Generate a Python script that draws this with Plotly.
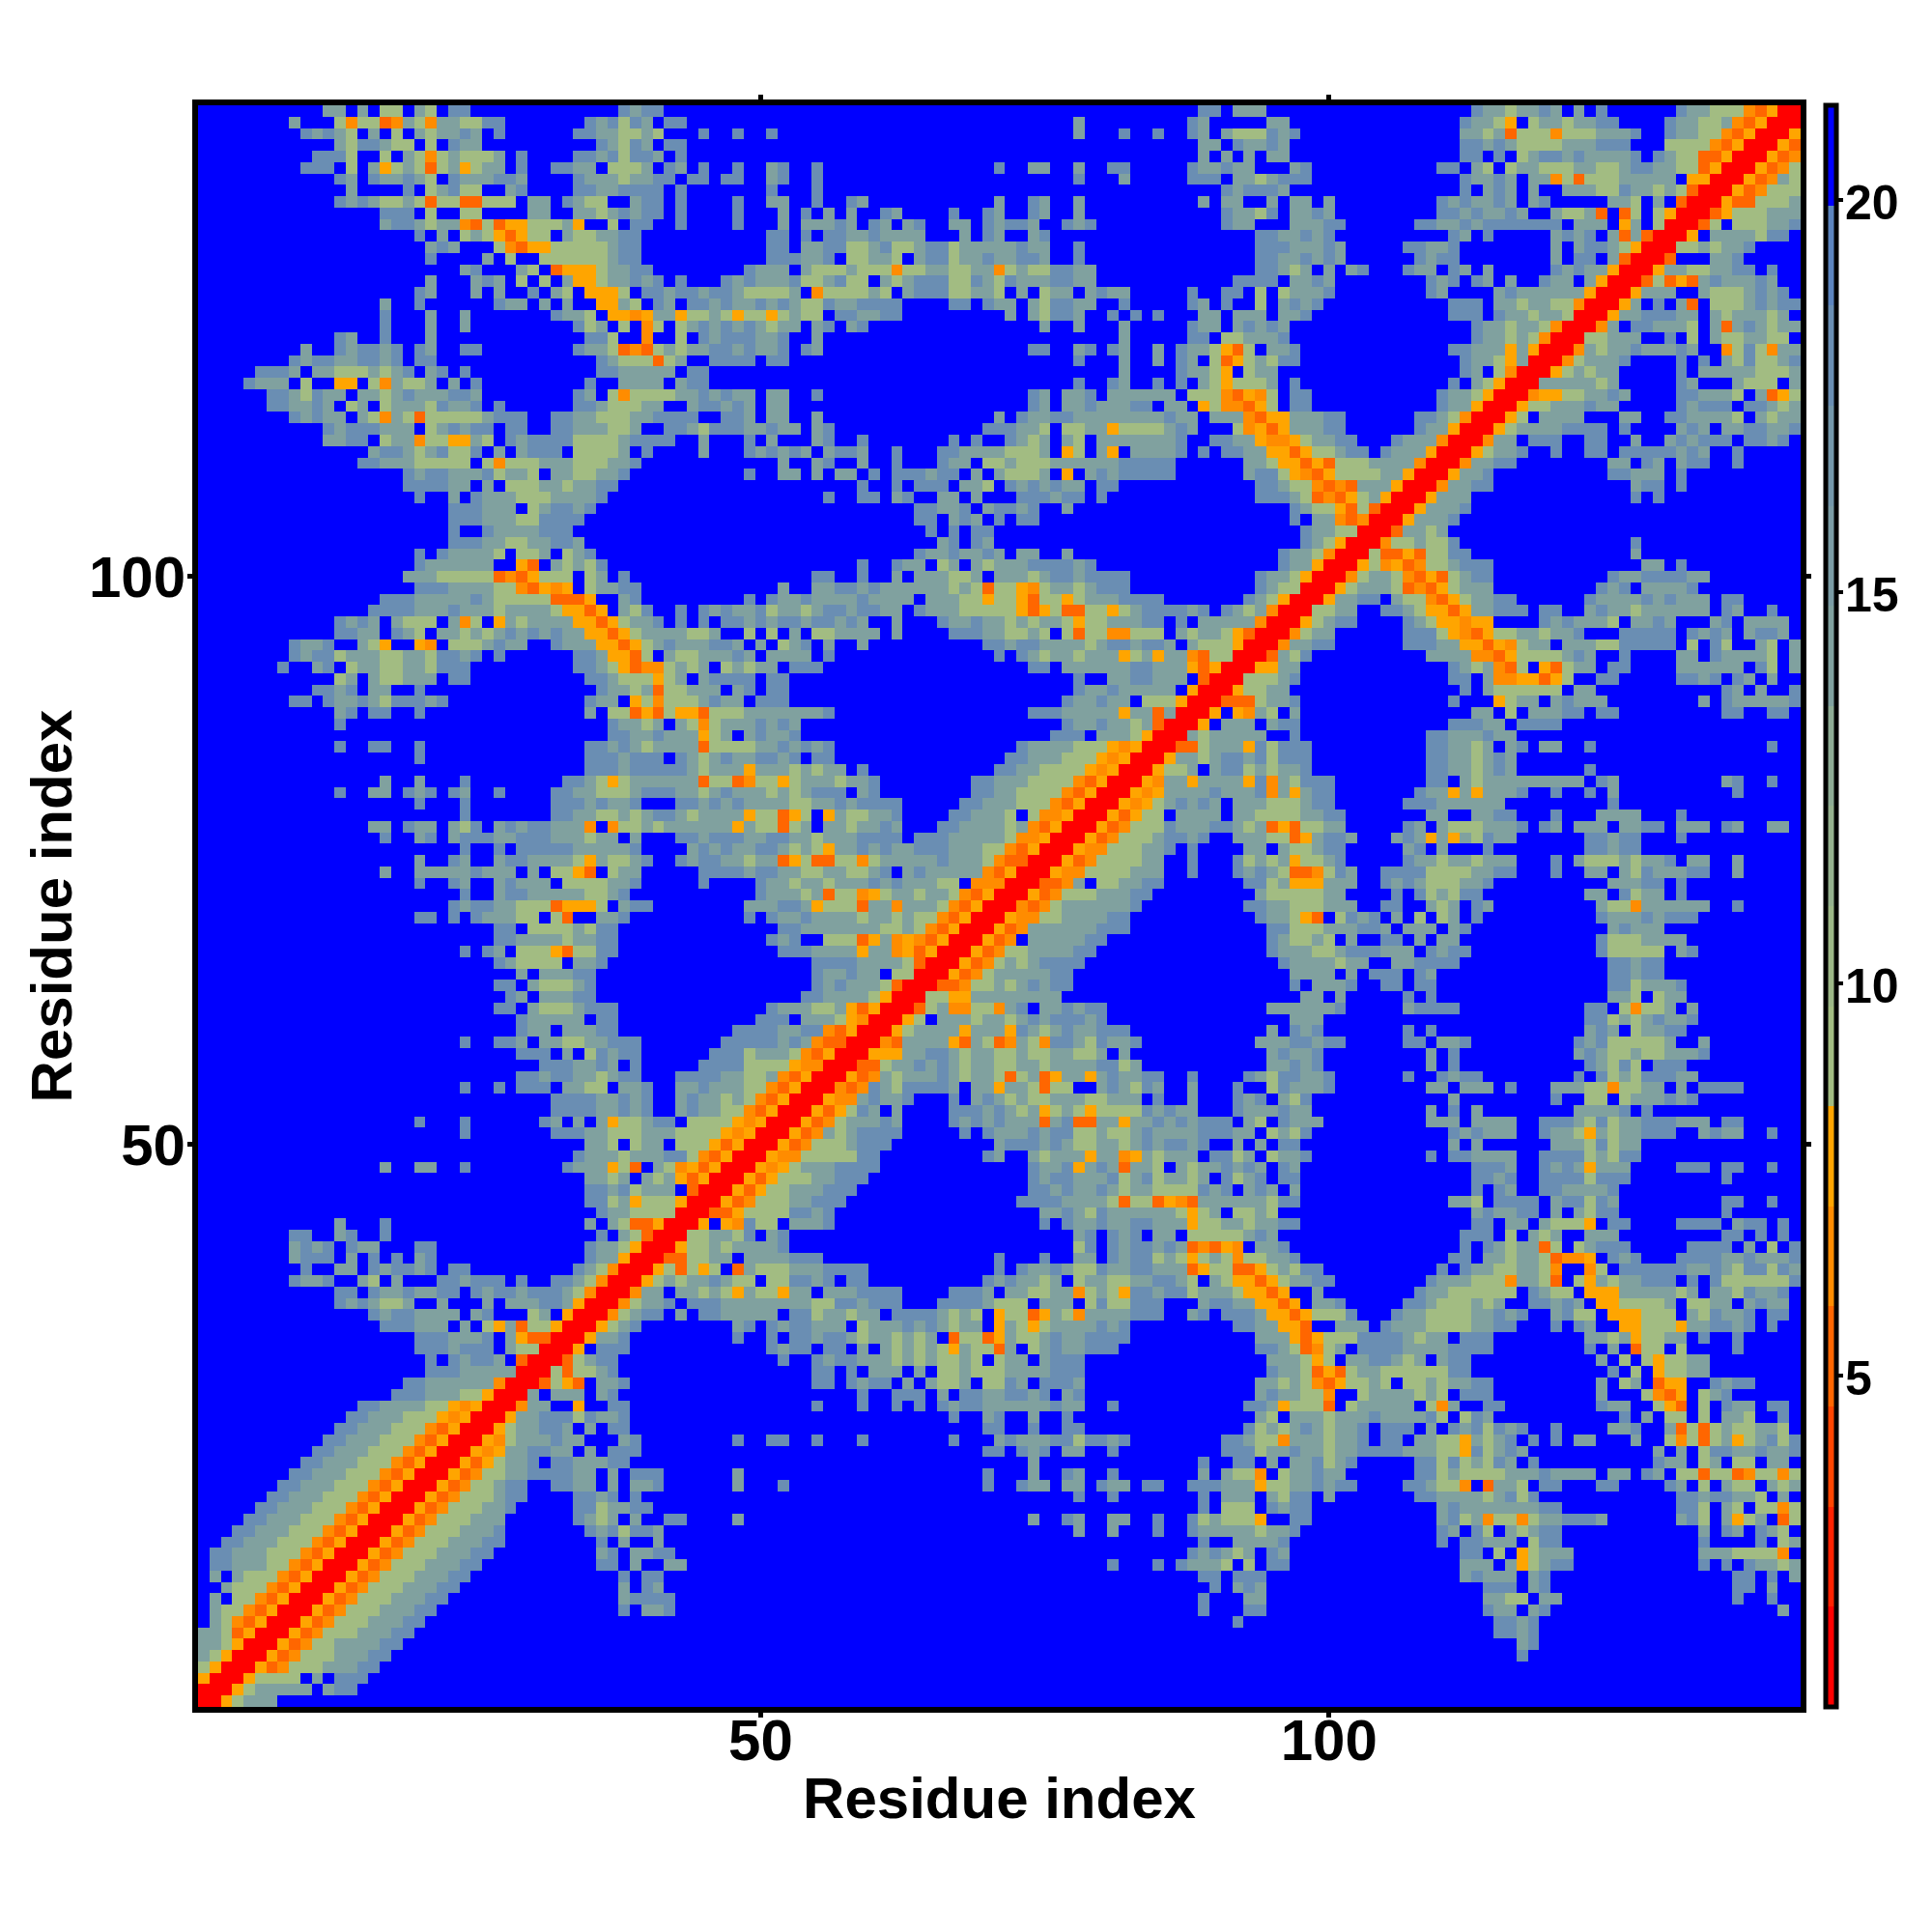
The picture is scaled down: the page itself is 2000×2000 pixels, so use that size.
import re
import plotly.graph_objects as go

# Upper triangle of the distance map, read row by row from residue 141 down.
# Letters are distance classes, a number repeats the next blank cell.
LEFT_COLS = [
"11.gg.g.ll.gl.bb13.bgbb7.","8.g3.lnllmnglnggllbb7.bgblbg.bb5.","9.bgbgl.g.l.glggbg.b6.bbggllgl3.b2.b",
"12.glbbgll.l.bgg10.bglbg.bb5.","10.bbbl2.l.glnlglllg.b4.bbgblbbg.b5.","9.bbb.l.golglmlgolgg.b2.bbgg.lllg.bg.b2.b",
"12.bg.bggbgl.bgggbbg4.bggglggbb.bb.bb","13.g4.b.lgbll2.gb4.bbggbbbb.b5.","12.bgbgllglmllmmlll.gg.bgll2.gbb.b4.b",
"16.bbb.l2.ll4.gg2.gglgbgbb.b4.b","16.gbbglggnmlmoolllgo2.l.bb2.b4.b","19.b.g.lglomoll.gllggbb9.",
"20.gbg3.lnmoolllllgbb9.","20.b4.g.l2.llllllgbb9.","23.gb3.gl.mooolggbb8.",
"20.g3.gbg.l.l.goolggbgb.b3.bg","19.bg3.g.g2.b.gl.oool.bbgbbgbbg","16.g2.b6.bgg.g.g2.oogl.bg.bbgbg",
"16.b3.g2.g7.bggl.oonoggollglo","16.b3.g2.g9.blg.l.nl.lgbgbg","12.bg2.b3.g13.bbl2.n2.l.bgbb",
"9.g2.bgbbgb.bg2.bb8.bgglmnmlglggbbg","8.bgbbggbbgb.bb14.bglllmlg2.bbb","5.bbbg.gglllglgb.gb.b11.bbggggg.bb3.",
"4.bggg.l2.oo.lngllg.g.b9.b2.gggg.gbb3.","6.bbglbgg.gglgbgggbbg8.bg.lnllllggbgbg","6.bbggbg.lg.lggglbggb.b6.bbglllgg2.gbbgb",
"8.bgbgg.glnglmlllllgbbb2.bbgglllggbbbb2.bb","11.bgbbbggg.lgbgbb.bb2.bbgggllg2.bbglbbb","11.ggbb.lggnlloogl.bgbbbbllllgbbbb2.g3.",
"15.gbbglgbllb.g.gbbb.llllg.b4.g3.","14.bbggglllll.lnlllggglllggb9.","18.bgbbgggblggl.ggllggb10.",
"18.bbbbgg.g.lllgglggbb11.","19.b2.g.bggglllggggb12.","22.bbbggg.lgbbgb13.",
"22.bbbgggllbbbb14.","22.b2.bggggbbb15.","22.bbbggllggbbg14.",
"19.b.bggggl.llg.lgb13.","19.bgggggg2.om.glglb12.","18.ggglllllmnmolll.lg.b10.",
"19.bbbggggllnmono.lggbb9.","16.bbbgggggbglllllmmmo2.gb9.","15.bbbbgggbggglggggloomo.glb2.b.bgbg",
"12.bgbg.glll.gnl.oglggggoomolggb.b.b.bb","12.bbgg.bgl.gglglgbgbgbggoomolggggllg2.",
"8.bggb2.glo2.on.lllgbgg2.bgggoomolgbgggbbg","8.bgbblgggllgglbbgb.b6.bbgooml.gllgggb","7.b2.gb.lggllgglbbb9.bbglomnnlglg.lg",
"12.lg.gllggg.bb10.bbglllolg.gbbb","10.bbgb.gg2.b15.bgglgmllggg.g","8.bb.bggbglbbbgb12.bgg.olnlllgbgg",
"12.gb.bb2.b14.g.llmomloomlll","12.b23.bgglg.glnlgg","36.bbggbgggolg.",
"12.b2.bb2.b14.bbgbglggggmlll","19.b14.bbbgbbb.bglgbg","34.bbbgbbbbbglggg",
"16.g2.g3.b8.bbglolggggggmllm","12.b2.gg.bgb.bg2.b4.bbgglllgbbbgglgbg","19.b3.b7.bbbgbggb3.bbgbgb",
"23.b7.bbggllglgbbglgggg","15.gg.bgg.glb.gbgbbgggn.nllglggggggo","16.b2.gb.gbbbggbbbggglgg.g3.bbgbbb",
"23.b2.b.bbbbbgggggb4.gbgbg","19.g2.bg2.gbbgggglogllgb2.bgbbgg","16.g2.gggggbggg.g.llom.lgg5.bbbb",
"19.b2.bg2.gbggg.llllggb5.b3.","23.b2.gbbgggggllgb10.","22.bgbbgglllmoool.gbb8.",
"19.bb.b.bgggll.lm2.ggb10.","26.bb.llllglbb11.","26.bbgggglggbb11.",
"23.b.bg.lllomllbb11.","26.bgllll.ggb12.","28.g.gggbb13.",
"26.bb.glllgb13.","27.bg.gggbb13.","26.bb.glllgbbb11.",
"28.bggggg.bb11.","28.bgg.gggbb10.b","23.b2.bbg.ggllggbbb7.bb",
"28.bbb.g.lbgbb6.bbb","30.bbbggbg.b5.bbbb","28.bbgbbgglgbb3.bbbbgg",
"23.b2.b.bbb.ggll.ggb2.ggbggg","31.bbbbggbgb2.gbgglg","31.bbbbggbgb2.gbggll",
"19.b3.b6.bg.g.gollgbb.llllo","23.b7.bbbgglllgggllllon","34.ggl.lgg.lllomo",
"33.bggglgggbblnmor","16.g2.gg2.b8.bgggolm.glnomorr",
"34.gglg.glgomorrr","34.bbgblggg.mrrro","34.bblgolllorrron","35.bggllllrrrmmn",
"12.g3.b17.g.glmmorrro.nn","8.bb2.gb2.b18.b.glmrrrlllgg","8.gbgb.bgg3.bb13.bgglorrrollggg",
"8.gbbb.g.b.b.gb13.bggorrrmmlggl.","9.b2.gg.bgbbgb.bb9.bglnrrrolmlol.n","8.bggb2.gl.g3.bbgbbb.b2.bbglnrrrolgbgbbgb",
"12.bb.bggbggbb.bgbbgbbbglnrrrnll.ggglgo","12.bgbgllg2.g3.g.gggbbgorrrolgbb.gbbbb","15.bgbbgggg.gb3.lg.orrroggbb.b.bgbb",
"16.bbbggg.g.logmllorrrnlgb8.b","19.bbbgggb.gommrrrolgbb9.","19.bbbgbbb.gllrrro.gbb10.",
"20.b.bgbbg.mrrrmgggb11.","20.bbbgggggrrrlmggbb11.","18.bbggggggnrrrmlom.gbb10.",
"17.bbbgggllorrrg.ggg.gb11.","14.bbggggllonorrrngg2.o2.gb10.","13.bbggglllonorrrolgggbggbbb10.",
"12.bbggglllnmorrrollgggg.g.bb10.","11.bbggglllnmorrronlllgggg3.gb9.","10.bbggglllnmorrromollgggg.g.bbb9.",
"9.bbggglllnmorrromolllb.bbgggb11.","8.bbggglllnmorrromnllllbbbbgg.g.bgb6.b","7.bbggglllnmorrromolllgg2.bbgg.g.gbb7.",
"6.bbggglllnmorrromolllggb4.bbgg.b9.","5.bbggglllnmorrromnlllggb5.bbgggbgb7.","4.bbggglllnmorrromnlllggb6.bggg.g2.bb4.b",
"3.bbggglllnmorrromnlllggbb7.bgggbgb7.","2.bbggglllnmorrromolllgggbb8.b.g2.b7.",".bbggglllnmorrromolllgggbb9.bb.gbgbb5.",
".bbgggllnmorrromolllgggbb10.bg.g2.bbb4.",".g.glllnmorrromolllgggbb13.g.bb7.","2.glllnmorrromolllggbbb14.b.bb7.",
".g.llnmorrromolllggbbb15.bbbbbb5.",".gllnmorrromolllggbbb16.b.bbbb5.",".glnmorrromolllggbbb28.",
"gglmorrromolllggbbb29.","gglorrromolllggbbb30.","glorrromolllggbbb31.","lorrromnlllggbbb32.",
"orrrolllg.g.bgb33.","rrrolllggg.bbg34.","rrolgbl41.",
]

MID_COLS = [
"40.bb.ggg.","29.g9.bg5.g","2.b26.g3.b2.b2.bg.glllb","40.gg.bggb","40.g.g.g.g",
"2.gb2.b15.b2.gg2.g2.bb5.bggbgg2.","2.gb2.b22.b3.g5.bbb.gglg","2.b3.b35.bgbbb",
"2.gg2.b2.bg11.g2.bg2.g10.g.gg2.g","3.g.b.g.g2.bg4.b2.bg2.bg2.g12.bgglb","3.g.gggbg.bg.gb2.gg.bgbbg2.bgb11.bgg2.",
"2.bb.b.bbggbgggg3.g.bg2.gb18.bb","2.bb.ggbbllgbllgbblgggggbgg2.b15.bb","2.bbbggb.llggl.gbblggbggbbg2.b15.bb",
"bggg.glllglllnllggllggnlgllbbgg14.bb","bgggbllgbll.glgbbbllbglbgggbbgg12.bbbb","llllg.nllllgl.gbbbllggl.g.lgg.gbgg5.b2.bb.l.",
"gbgbgllbggbbbb4.bb.bgg.glbbgg2.b5.bg.b2.l.","llolgll.bbggbb9.g.glbbg2.b.b.b3.gg.ggg.","bglgg.gb.gb15.g2.g3.g5.bgg.gbgb",
"bggb2.g26.g5.bb.llggg","bggb.bg18.bb2.gb.bg2.g.bggloml.g","b.bb25.b3.g2.g.bg.lmolgl","33.g4.bgglo.lgg","29.b2.bg2.b.b.glolllg",
"g.gg2.b18.bg.ggb.gggggg.lllnmonl","g.gg21.bg.ggbgggbb.gg.olnnmol","g.gg2.g15.g.bggbbggggggggbgg.gggnmo",
"ggbgg.gb13.bbbggl.llggollllgbg3.lnom","b.g3.gb2.b7.b.b2.bglg.gl.gggggggb2.bbggon",
"bgbgbg.gbbg2.b3.bbgggglllg.ol.go.ggggb.b.bbggo","3.g2.gb2.g2.b3.bgg.llglllggggggbbbbb6.ggl",
"b2.gg.g.gg.b.bbbgbb.g.glllg.o.gbgbbbbb6.gbb","10.b2.b.bbb.ggl.bgbgbgg.bb12.bb","7.b2.bb.gb2.gg.g3.bbbgbb.b13.bb",
"15.bbggb.gbbgb2.g18.","15.bb.gbg.b.bb21.","16.b.b.bb25.","17.gb.bg25.","15.bggbggbg.gg2.g18.",
"10.b2.bgg.lg.glgggbbbbgb16.","6.bb2.b2.g.gggllg.ggglgbbgbbbb11.bg","3.g2.ggbbgbgggggglglmllonlgglgbbb11.bg",
"b.bggbggggbgggg.gggllollomllolgggbbbb7.bgl","gblgglgbbgbbgg.bggglllllomolmmllolgbbbbgb.bglgn",
"gbgbbgbbgbg2.g3.bggbgglglgglollgggbb.b.gggggnr","l.l.g.llgggg.g4.bbbggllgl.lmllnnlll.glgglomrr",
".g.lgb.g2.g10.bbgbbgggglgbbgbbg.glllorrr","g.gggg.b14.b.bglgglgggolgoggnmllrrrn","lgg.bbb18.bb.ggggggbbgggomorrrol",
"b.bb25.b2.ggbbggg.mrrrlll","b.bb25.bggbggggg.orrrolgg",".bbb24.bggbgg.lllorrrmmmng","gggggggb17.bbbgggggoggmgrrro.onlg",
"gbgbg23.bggbgglgmrrro.ggl.g","gbggb22.bbb.ggglorrrlggbggg.","lggbgbgb16.bgggglllonorrrnnlgggoll",
"gbbgb.bb15.bbggglllonorrrolgggbgbbb","oggglglgg.b11.bbggllllonorrrolll.bbbgbb","nllolggglggb8.bbgggllllnmorrromllogggboln",
"gglglgbbb.gb8.bbggllllnmorrromoggbbbbbgbg","ggggllggbgbbbb5.bbggglllnmorrromolggbg2.bgbg","ollmol.ogllggb4.bbgggl.lnnorrronmlgg.bg2.gbgg",
"gllmlg.gglggbg3.bbgggglgnmorrronmlllggggbbbgmo","ggbbgglgggbbbb.bbbgggggl" "nnorrronolllgggbb2.gbgb",
"gbbglgloggbgbggbbbgggll" "nmorrronolllggb.b4.bb.","lggmolmmlln" "lgggggbgggl" "nmmrrromollllggb.b3.bbgb",
"gbbggllggllgb.gbgggggnmorrromolllggbbbbb3.bbbb",".bgglgglgggbgbgggll.nnnrrrnnnl.lgggbbb6.bbb",
".bggglgmllnolgglgglnmorrromolllggbbb9.bb","gggbbgolllmggngggl" "nmorrrnmnlllggbbb9.bb.",
"b.bggbgggglgglgllnmorrronnlllgggbb11.bb","3.bbgggggggllglnmorrromnlllggbbb13.b","2.bgb2.lllmognonmorrromn.lllggbb14.b",
"3.bbbggggoggnomorrromnllllggbb16.","6.bbbbgggglmrrromnlllggbbb17.","6.bggbgg.llrrromnlllggbbb18.","6.bgbggglmrrrmmnlllgggbb19.",
"5.bbgggglorrrlloolggggbb20.","2.bgggllgomorrrmllmmllnll.bbbbb15.b",".bbb.ggglonrrrol.gbggggbggbbbbb16.",
"bbbggbbnmorrrolgglglgglogllggbbb13.bb","bbbgbgnmmrrromllggonllmmllollgggbb11.bb","lggglnmorrronoggbbbgggllgggggbbg.b11.bb",
"llllonnrrrmmlgbbgbgglgggllgggggbbbbg9.bb","llgnmorrromnlggbbggggllmllmolgoggbgbb2.b4.bb.","llnmorrrnmolllgggbb.ggolllmll2.gbgbbb2.b3.b2.b",
"lnmorrronnnlggb3.g.bbbbbbggggggbbb.b2.b2.bgbb.","nmorrromolll.lb3.bggggggbolggoggllggbgbbgb.b.b","norrromnlllllg4.gggggllgmllmmllolgggggbbb.b2.",
"orrromnlllllgg4.b.bgbgggbgggllgggggbgbg.b.b.","rrromnllllggb8.bggbggggggglllgggggb2.b.b.","rromnlllgggbb8.bg2.gggglnllmolllgg.ggg.b.",
"romollllgggbb9.bggggggollgggb.gllgggggl",
]

RIGHT_COLS = [
"17.bgglggbg.g.b6.bgglllnmorr","g15.bgglo.lgglggbb4.bggllgnmorrr","gb14.gglgmlllnlllgggb2.bggllnmorrro",
"g15.bbgbgllllgggbbb3.llllnmorrrom","g15.bb.b.lgbbgbggggb.bgllmmorrromo",".gb11.bb.gl.lgglllggllgbbggllmorrromol",
"bbb13.bggbg.ggnlmlllggggg.oorrromoll","g15.b.gbg.g2.gggllbgglglmrrromolll",".gg.g9.bgbggbg.gb5.ggl.g.mrrrommllll",
".ggbg9.bbgbggbg2.gllgm.ml.lorrrmollllll",".gggbb6.bbggbgbbbbbbb.ggg.og.lrrrml.lgggbb","ggbgb10.bg.b5.gbgb.gmgmrrro.lgggbbb.",
"bgggbg5.bbggb8.g.gbbglorrrlggggbb4.","ggbgbg6.bgbb8.g.bb.gmrrrm3.bggg4.","glg.g.gb3.bgg.bg.g5.bgbggorrrolggggbb5.",
".ggbg8.bgb.bg.g2.bgg.gorrrogmomllgbbgbb.","lgggb8.bg4.gbggggggorrroggl2.lgggbgbb.","gbgb11.bbb.gglggllnrrrng.gglm.lggbgbgb",
"ggb12.bbb.bgglgglrrrogbbb.gl.ggggggb.","g16.bgglgglnrrrog.bbbggl.gmlllggb","b16.bgglglnrrrlllgb2.g.l.gllgggg.",
"gb13.bbgggogorrrolllggbbbgl2.olllogg","bb14.bgglogrrrolggbbb4.b.g.lllggb","16.bg.lnrrrolggbb5.b.bgggllggg",
".b13.b.glorrrllggbgb5.bb3.glll.g",".bb11.bgglorrrnonlggbbg4.bbggll.gmog",".bb11.bggorrrolllbbbbb6.bbbb.bggll",
"ogggbb6.bbglnrrrol.gglgg2.gg2.bggbgbl.glll","ogggbb6.bggorrrolgggbbbgbg.g3.bbb.gbbgggb","nolggbb3.bgggnrrrngg.bgb2.bgb2.bbbbbbbb.bgbg.",
"omollgbb.bgggorrroggbb2.b2.bb.bbbgbbbbb.g5.","oomomlllggggnrrrngggb8.bb.bgbbbbb.g5.","lonmollllggorrroggb10.bbbbb.b10.",
"gllnmnmgggorrrogbb13.bbb12.","bglmnmolgorrroggb14.b.b12.",".bgllomlmrrroggb30.",".b.ggnmnrrroggb31.",
"2.bggllrrrmllg32.","2.bglorrrmllgg32.","bgglnrrrgmmomllgb14.b14.","bggorrrolnomggbb14.bgb.b10.",
"glorrrnlgglnmonlgbgb9.bb.bbbbbb8.","llrrrolggglmonollbgb9.bbggbggb9.","orrrogbggg.lllnmollggbg6.bbg.gggbbg.bg5.",
"rrrllgb2.bgglloomollgggb.g4.bggbbggbgb.bb.b2.","rroggbb4.bggoomoo3.bggbgggl.lgggb2.gg.lggg.",
"rnlgb6.bgggoomoggggbggb.g.gbbbbgggbgbbgbb.",
]

# distance (Angstrom) standing for each class letter
CLASS_DISTANCE = {"r": 1.4, "m": 5.2, "n": 6.5, "o": 7.8, "l": 9.1, "g": 14.3, "b": 18.1, ".": 20.6}

BAND_COLOURS = ["#ff0000", "#ff2200", "#ff4500", "#ff6600", "#ff8c00", "#ffa500", "#a2bc82", "#9cb787", "#95b18e",
                "#8eac95", "#80a19f", "#7b9ca5", "#7497aa", "#6a8eb3", "#5c84be", "#0000ff"]
Z_MIN = 0.77
Z_MAX = 21.21
N_RESIDUES = 141
RESIDUE_TICKS = [50, 100]
BAR_TICKS = [5, 10, 15, 20]


def expand(cells, width):
    text = re.sub(r"(\d+)\.", lambda m: "." * int(m[1]), cells)
    return text.ljust(width, ".")[:width]


z = [[20.6] * N_RESIDUES for _ in range(N_RESIDUES)]
for row, left in enumerate(LEFT_COLS):
    mid = MID_COLS[row] if row < len(MID_COLS) else ""
    right = RIGHT_COLS[row] if row < len(RIGHT_COLS) else ""
    cells = expand(left, 48) + expand(mid, 47) + expand(right, 46)
    residue = N_RESIDUES - row
    for col in range(residue):
        z[residue - 1][col] = CLASS_DISTANCE[cells[col]]
        z[col][residue - 1] = CLASS_DISTANCE[cells[col]]

scale = []
for i, colour in enumerate(BAND_COLOURS):
    scale.append([i / len(BAND_COLOURS), colour])
    scale.append([(i + 1) / len(BAND_COLOURS), colour])

bar_font = dict(family="Liberation Sans", size=50, color="black", weight="bold")
residues = list(range(1, N_RESIDUES + 1))
fig = go.Figure(go.Heatmap(
    x=residues, y=residues, z=z, zmin=Z_MIN, zmax=Z_MAX, colorscale=scale,
    colorbar=dict(
        x=1.0155, xanchor="left", y=0, yanchor="bottom", len=1, lenmode="fraction",
        thickness=11, ypad=0, xpad=0, outlinecolor="black", outlinewidth=5,
        tickvals=BAR_TICKS, ticks="outside", ticklen=5, tickwidth=4, tickcolor="black",
        showticklabels=False,
    ),
))

# colorbar labels sit closer to the bar than plotly allows, so they are annotations
for v in BAR_TICKS:
    fig.add_annotation(x=1.0265, xref="paper", xanchor="left", y=(v - Z_MIN) / (Z_MAX - Z_MIN), yref="paper",
                       yanchor="middle", text=str(v), showarrow=False, font=bar_font, yshift=-3)

axis = dict(
    range=[0.5, N_RESIDUES + 0.5], tickvals=RESIDUE_TICKS, ticks="outside", ticklen=5, tickwidth=5,
    tickcolor="black", showline=True, linecolor="black", linewidth=6, mirror="allticks",
    showgrid=False, zeroline=False,
    tickfont=dict(family="Liberation Sans", size=60, color="black", weight="bold"),
)
title_font = dict(family="Liberation Sans", size=60, color="black", weight="bold")
fig.update_xaxes(**axis)
fig.update_yaxes(**axis)
fig.update_xaxes(ticklabelstandoff=-28, title=dict(text="Residue index", standoff=8, font=title_font))
fig.update_yaxes(ticklabelstandoff=-10, title=dict(text="Residue index", standoff=0, font=title_font))
# the page body adds 8 px at the top left
fig.update_layout(width=2000, height=2000, autosize=False, plot_bgcolor="white", paper_bgcolor="white",
                  margin=dict(l=197, r=144, t=101, b=241, autoexpand=False))
fig.write_html("out.html")
